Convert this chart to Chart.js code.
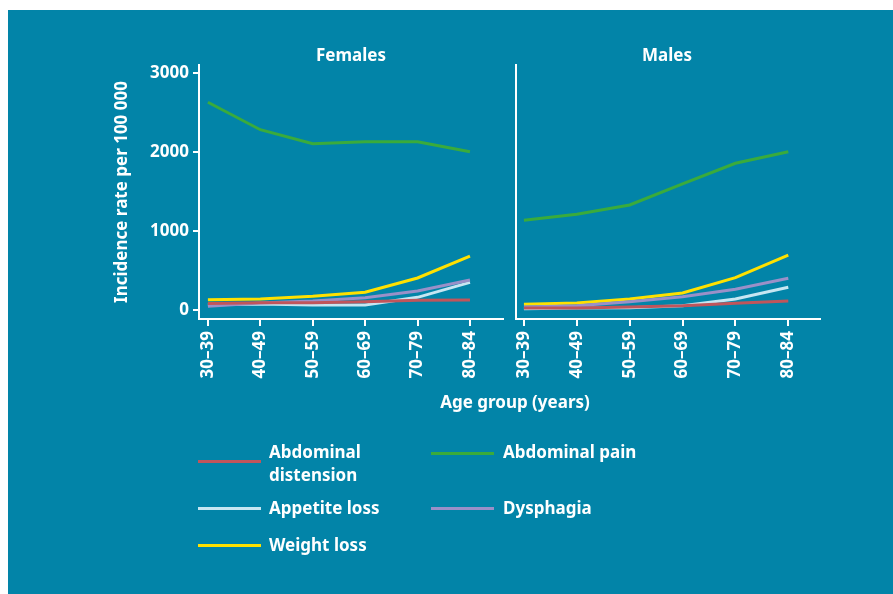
<!DOCTYPE html>
<html>
<head>
<meta charset="utf-8">
<script src="https://cdn.jsdelivr.net/npm/chart.js@4.4.0/dist/chart.umd.min.js"></script>
<style>
  body { margin: 0; background: #fff; font-family: "Noto Sans", sans-serif; }
  #panel { position: absolute; left: 8px; top: 10px; width: 885px; height: 584px; background: #0284a8; }
  canvas { position: absolute; left: 0; top: 0; }
  .txt { position: absolute; color: #fff; font-weight: bold; font-size: 17px; white-space: nowrap; }
  .key { position: absolute; height: 3px; width: 63px; }
</style>
</head>
<body>
<div id="panel"></div>
<canvas id="female" width="893" height="594"></canvas>
<canvas id="male" width="893" height="594"></canvas>

<div class="txt" style="left:301px; top:43px; width:100px; text-align:center;">Females</div>
<div class="txt" style="left:617px; top:43px; width:100px; text-align:center;">Males</div>
<div class="txt" style="left:415px; top:390px; width:200px; text-align:center;">Age group (years)</div>

<div id="legend"></div>

<script>
const ageGroups = ['30–39', '40–49', '50–59', '60–69', '70–79', '80–84'];

const seriesNames = ['Abdominal distension', 'Abdominal pain', 'Dysphagia', 'Appetite loss', 'Weight loss'];
const seriesColors = ['#c0555b', '#3aab3c', '#9a90c8', '#c6e6f2', '#ffe100'];

// females
const femDistension = [85, 95, 96, 109, 126, 130];
const femPain = [2633, 2286, 2109, 2134, 2134, 2008];
const femDysphagia = [50, 92, 118, 160, 244, 383];
const femAppetite = [76, 80, 67, 67, 164, 354];
const femWeight = [134, 143, 177, 228, 409, 687];

// males
const maleDistension = [29, 30, 42, 58, 89, 118];
const malePain = [1139, 1215, 1333, 1599, 1861, 2008];
const maleDysphagia = [42, 58, 109, 172, 266, 405];
const maleAppetite = [20, 29, 33, 58, 143, 291];
const maleWeight = [76, 92, 143, 219, 413, 700];

const yTicks = [0, 1000, 2000, 3000];

const white = '#ffffff';
const font = { family: '"Noto Sans", sans-serif', weight: 'bold', size: 17 };

function makeSets(lists) {
  return lists.map((vals, i) => ({
    label: seriesNames[i],
    data: vals.map((v, j) => ({ x: j, y: v })),
    borderColor: seriesColors[i],
    backgroundColor: seriesColors[i],
    borderWidth: 3,
    pointRadius: 0,
    tension: 0,
    fill: false
  }));
}

function buildChart(id, lists, opts) {
  return new Chart(document.getElementById(id), {
    type: 'line',
    data: { datasets: makeSets(lists) },
    options: {
      responsive: false,
      animation: false,
      layout: { padding: opts.padding },
      plugins: { legend: { display: false }, tooltip: { enabled: false } },
      scales: {
        x: {
          type: 'linear',
          min: opts.xMin,
          max: opts.xMax,
          afterBuildTicks: s => { s.ticks = ageGroups.map((_, i) => ({ value: i })); },
          afterFit: s => { s.height = 80; },
          ticks: {
            color: white, font: font, autoSkip: false,
            minRotation: 90, maxRotation: 90, padding: 5,
            callback: v => ageGroups[v]
          },
          grid: { drawOnChartArea: false, color: white, lineWidth: 2, tickLength: 7 },
          border: { color: white, width: 2 }
        },
        y: {
          min: -110,
          max: 3105,
          afterBuildTicks: s => { s.ticks = yTicks.map(v => ({ value: v })); },
          afterFit: s => { s.width = opts.yWidth; },
          ticks: { display: opts.yLabels, color: white, font: font, padding: 4, callback: v => String(v) },
          grid: { display: opts.yLabels, drawOnChartArea: false, color: white, lineWidth: 2, tickLength: 6 },
          border: { color: white, width: 2 },
          title: {
            display: opts.yLabels,
            text: 'Incidence rate per 100 000',
            color: white, font: font, padding: 0
          }
        }
      }
    }
  });
}

buildChart('female', [femDistension, femPain, femDysphagia, femAppetite, femWeight], {
  padding: { left: 112, top: 65, right: 390, bottom: 195 },
  yWidth: 87, yLabels: true, xMin: -0.17, xMax: 5.63
});

buildChart('male', [maleDistension, malePain, maleDysphagia, maleAppetite, maleWeight], {
  padding: { left: 516, top: 65, right: 73, bottom: 195 },
  yWidth: 0, yLabels: false, xMin: -0.15, xMax: 5.6
});

// legend, laid out as in the figure (two columns)
const legendPos = [
  { line: [198, 461], text: [269, 440], label: 'Abdominal<br>distension' },
  { line: [431, 453], text: [503, 440], label: 'Abdominal pain' },
  { line: [431, 508], text: [503, 496], label: 'Dysphagia' },
  { line: [198, 508], text: [269, 496], label: 'Appetite loss' },
  { line: [198, 545], text: [269, 533], label: 'Weight loss' }
];
const legend = document.getElementById('legend');
legendPos.forEach((p, i) => {
  const k = document.createElement('div');
  k.className = 'key';
  k.style.left = p.line[0] + 'px';
  k.style.top = (p.line[1] - 1) + 'px';
  k.style.background = seriesColors[i];
  legend.appendChild(k);
  const t = document.createElement('div');
  t.className = 'txt';
  t.style.left = p.text[0] + 'px';
  t.style.top = p.text[1] + 'px';
  t.style.lineHeight = '23px';
  t.innerHTML = p.label;
  legend.appendChild(t);
});
</script>
</body>
</html>
